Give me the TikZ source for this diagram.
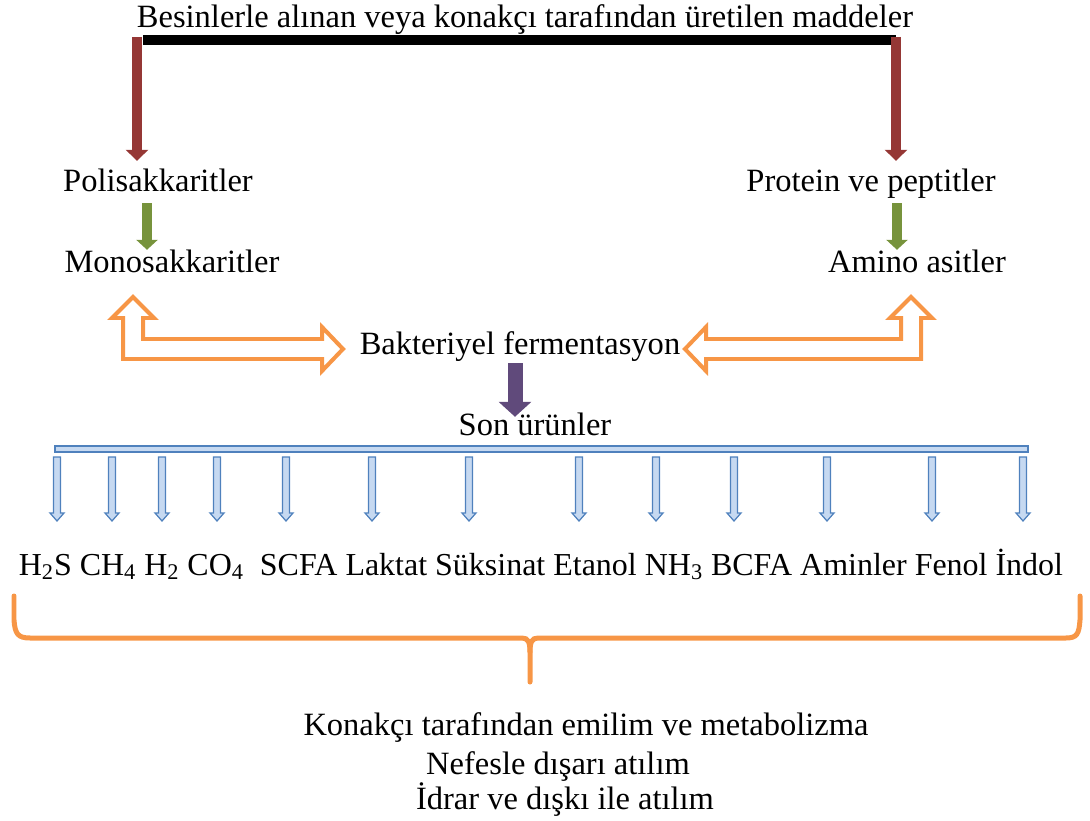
\documentclass[tikz,border=0pt]{standalone}
\usepackage{fontspec}
\setmainfont{Liberation Serif}
\usetikzlibrary{arrows.meta,positioning}

\definecolor{barred}{HTML}{953735}
\definecolor{leafgreen}{HTML}{77933C}
\definecolor{fermorange}{HTML}{F79646}
\definecolor{plum}{HTML}{604A7B}
\definecolor{plumlight}{HTML}{8064A2}
\definecolor{steelblue}{HTML}{4F81BD}
\definecolor{paleblue}{HTML}{C6D9F1}

\tikzset{
  lbl/.style={inner sep=0pt, text height=13pt, text depth=4pt, anchor=base,
    font=\fontsize{18.5}{22}\selectfont},
  redarrow/.style={barred, line width=0.2cm, -{Triangle[width=0.44cm,length=0.22cm]}},
  greenarrow/.style={leafgreen, line width=0.2cm, -{Triangle[width=0.42cm,length=0.2cm]}},
  purplearrow/.style={plum, line width=0.3cm, -{Triangle[width=0.64cm,length=0.3cm]}},
  hollowarrow/.style={draw=fermorange, fill=white, line width=0.08cm, line join=miter},
  smallarrow/.style={draw=steelblue, fill=paleblue, line width=0.7pt},
  bracestroke/.style={fermorange, line width=0.1cm, line cap=round},
}

\begin{document}
\begin{tikzpicture}[x=0.02cm, y=-0.02cm]
  \useasboundingbox (0,0) rectangle (1090,821);

  \node[lbl] (title) at (525,28) {Besinlerle alınan veya konakçı tarafından üretilen maddeler};
  \node[lbl] (poli) at (158,192) {Polisakkaritler};
  \node[lbl] (prot) at (871,192) {Protein ve peptitler};
  \node[lbl] (mono) at (172,273) {Monosakkaritler};
  \node[lbl] (amino) at (917,273) {Amino asitler};
  \node[lbl] (ferm) at (520,355) {Bakteriyel fermentasyon};
  \node[lbl] (son) at (535,435) {Son ürünler};
  \node[lbl, font=\fontsize{18.2}{22}\selectfont] (prod) at (541,575) {H\textsubscript{2}S CH\textsubscript{4} H\textsubscript{2} CO\textsubscript{4}\ \ SCFA Laktat Süksinat Etanol NH\textsubscript{3} BCFA Aminler Fenol İndol};
  \node[lbl] (absorb) at (586,735) {Konakçı tarafından emilim ve metabolizma};
  \node[lbl] (breath) at (558,774) {Nefesle dışarı atılım};
  \node[lbl] (excr) at (565,809) {İdrar ve dışkı ile atılım};

  \coordinate (srcL) at (137,37);
  \coordinate (srcR) at (896,37);
  \coordinate (grnL) at (147,0);
  \coordinate (grnR) at (897,0);
  \coordinate (mid) at (515,0);

  \draw[line width=0.2cm] (143,40) -- (896,40);
  \draw[redarrow, shorten >=0.16cm] (srcL) -- (srcL |- poli.north);
  \draw[redarrow, shorten >=0.16cm] (srcR) -- (srcR |- prot.north);

  \draw[greenarrow, shorten <=0.08cm] (grnL |- poli.south) -- (grnL |- mono.north);
  \draw[greenarrow, shorten <=0.08cm] (grnR |- prot.south) -- (grnR |- amino.north);

  \draw[hollowarrow] (133,297) -- (154,318) -- (143,318) -- (143,339) -- (322,339)
    -- (322,327) -- (343,349) -- (322,371) -- (322,359) -- (123,359) -- (123,318)
    -- (112,318) -- cycle;
  \draw[hollowarrow] (911,297) -- (932,318) -- (921,318) -- (921,359) -- (706,359)
    -- (706,371) -- (685,349) -- (706,327) -- (706,339) -- (901,339) -- (901,318)
    -- (890,318) -- cycle;

  \draw[purplearrow, shorten <=0.02cm, shorten >=-0.1cm] (mid |- ferm.south) -- (mid |- son.north);

  \draw[smallarrow] (55,446) rectangle (1028,452);
  \foreach \x in {57,112,162,217,286,372,469,579,656,734,827,932,1023}
    \draw[smallarrow] (\x-3.5,457) -- (\x+3.5,457) -- (\x+3.5,513) -- (\x+7,513)
      -- (\x,521) -- (\x-7,513) -- (\x-3.5,513) -- cycle;

  \draw[bracestroke] (14,596) -- (14,620) .. controls (15,634) and (18,638) .. (30,638)
    -- (522,638) .. controls (528,638) and (530,642) .. (530,652) -- (530,682);
  \draw[bracestroke] (530,652) .. controls (530,642) and (532,638) .. (538,638)
    -- (1066,638) .. controls (1077,638) and (1079,634) .. (1080,620) -- (1080,596);
\end{tikzpicture}
\end{document}
